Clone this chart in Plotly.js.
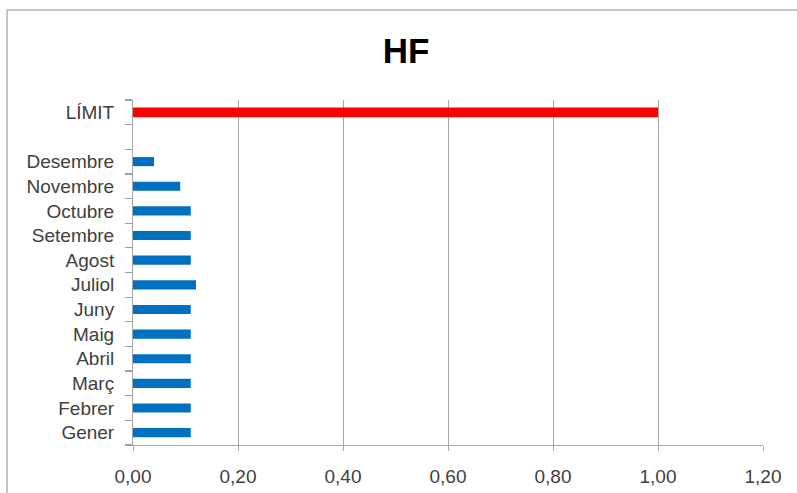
<!DOCTYPE html>
<html>
<head>
<meta charset="utf-8">
<script src="https://cdn.plot.ly/plotly-3.0.1.min.js"></script>
<style>html,body{margin:0;padding:0;background:#fff;}</style>
</head>
<body>
<div id="chart" style="width:797px;height:493px;"></div>
<script>
// Data
const months = ["Gener","Febrer","Març","Abril","Maig","Juny","Juliol","Agost","Setembre","Octubre","Novembre","Desembre"];
const monthValues = [0.11, 0.11, 0.11, 0.11, 0.11, 0.11, 0.12, 0.11, 0.11, 0.11, 0.09, 0.04];
const limitLabel = ["LÍMIT"];
const limitValue = [1.00];
const blankCategory = " ";
const xTickVals = [0, 0.2, 0.4, 0.6, 0.8, 1.0, 1.2];
const xTickText = ["0,00","0,20","0,40","0,60","0,80","1,00","1,20"];

const categories = months.concat([blankCategory], limitLabel);

const L = 133, R = 34, T = 100, B = 48, W = 797, H = 493;
const pw = W - L - R, ph = H - T - B;
const px2x = p => (p - L) / pw;
const py2y = p => 1 - (p - T) / ph;

const traces = [
  {
    type: "bar", orientation: "h",
    y: months.concat([blankCategory]),
    x: monthValues.concat([null]),
    marker: {color: "#0070C0"},
    width: 0.37,
    hoverinfo: "x+y"
  },
  {
    type: "bar", orientation: "h",
    y: limitLabel, x: limitValue,
    marker: {color: "#FF0000"},
    width: 0.4,
    hoverinfo: "x+y"
  }
];

const layout = {
  width: W, height: H,
  margin: {l: L, r: R, t: T, b: B, pad: 0},
  paper_bgcolor: "#ffffff", plot_bgcolor: "#ffffff",
  showlegend: false,
  barmode: "overlay",
  title: {
    text: "<b>HF</b>",
    x: 406 / W, xref: "container", xanchor: "center",
    y: 1 - 51 / H, yref: "container", yanchor: "middle",
    font: {family: "Liberation Sans Narrow, Liberation Sans, Arial, sans-serif", size: 35, color: "#000000"}
  },
  xaxis: {
    range: [0, 1.2],
    tickvals: xTickVals, ticktext: xTickText,
    showgrid: true, gridcolor: "#a6a6a6", gridwidth: 1,
    showline: true, linecolor: "#a6a6a6", linewidth: 1,
    ticks: "outside", ticklen: 5, tickcolor: "#a6a6a6",
    ticklabelstandoff: 9,
    zeroline: false,
    tickfont: {family: "Liberation Sans, Arial, sans-serif", size: 19, color: "#404040"},
    fixedrange: true
  },
  yaxis: {
    type: "category",
    categoryorder: "array", categoryarray: categories,
    range: [-0.5, categories.length - 0.5],
    showgrid: false,
    showline: true, linecolor: "#a6a6a6", linewidth: 1,
    ticks: "outside", ticklen: 7, tickcolor: "#a0a0a0", tickwidth: 1.2,
    tickson: "boundaries",
    ticklabelstandoff: 14,
    tickfont: {family: "Liberation Sans, Arial, sans-serif", size: 19, color: "#404040"},
    fixedrange: true
  },
  shapes: [
    {type: "line", xref: "paper", yref: "paper",
     x0: px2x(7), x1: px2x(800), y0: py2y(10), y1: py2y(10),
     line: {color: "#8c8c8c", width: 1}},
    {type: "line", xref: "paper", yref: "paper",
     x0: px2x(7), x1: px2x(7), y0: py2y(10), y1: py2y(500),
     line: {color: "#8c8c8c", width: 1}}
  ]
};

Plotly.newPlot("chart", traces, layout, {displayModeBar: false, staticPlot: true});
</script>
</body>
</html>
